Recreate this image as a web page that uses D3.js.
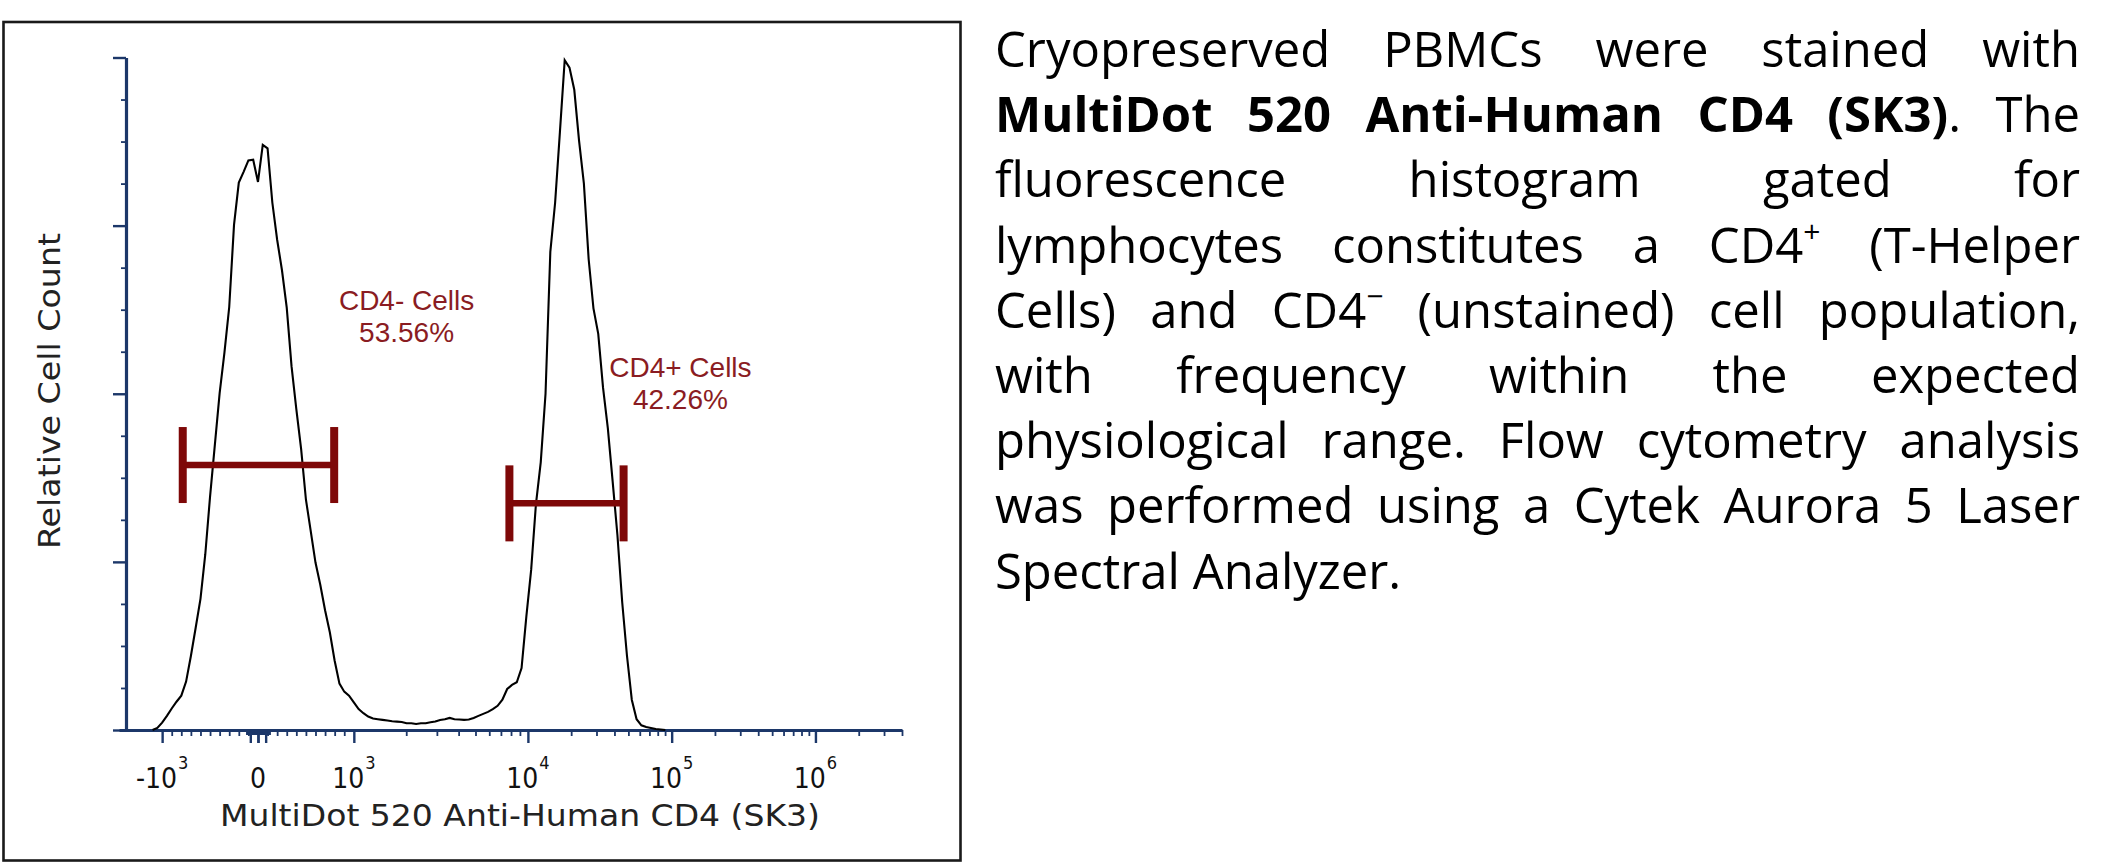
<!DOCTYPE html>
<html>
<head>
<meta charset="utf-8">
<script src="https://cdn.jsdelivr.net/npm/d3@7"></script>
<style>
  html, body { margin: 0; padding: 0; background: #ffffff; }
  svg { display: block; }
</style>
</head>
<body>
<svg id="chart" width="2116" height="867"></svg>
<script>
// ================= DATA =================
// Histogram bins are equally spaced in display units of the bi-exponential axis
// (one display unit = the linear span 0..10^3).
const binStart = -1.10;
const binStep = 0.05;
const counts = [
  0, 0.3, 1.1, 2.1, 3.2, 4.2, 5.1, 7.2, 11.0, 15.2,
  19.5, 26.1, 34.7, 42.4, 50.1, 56.1, 62.9, 75.1, 81.4, 83.0,
  84.7, 84.8, 81.5, 87.0, 86.5, 78.4, 72.9, 68.4, 62.8, 54.1,
  47.7, 41.8, 34.3, 29.6, 24.9, 21.6, 17.8, 14.5, 10.3, 6.9,
  5.7, 5.1, 4.1, 3.1, 2.5, 2.0, 1.7, 1.6, 1.5, 1.4,
  1.3, 1.25, 1.2, 1.0, 1.0, 0.9, 1.0, 1.0, 1.15, 1.25,
  1.5, 1.6, 1.8, 1.6, 1.55, 1.5, 1.55, 1.8, 2.1, 2.4,
  2.7, 3.1, 3.6, 4.5, 6.1, 6.7, 7.1, 9.2, 16.9, 23.8,
  33.6, 39.8, 50.0, 71.1, 78.4, 88.9, 99.6, 98.5, 95.2, 87.6,
  81.3, 70.0, 62.7, 58.9, 50.9, 44.9, 37.0, 29.0, 19.0, 11.0,
  4.5, 1.6, 0.7, 0.45, 0.3, 0.15, 0.07, 0
];

const xTickValues = [-1e3, 0, 1e3, 1e4, 1e5, 1e6];
const xTickBase   = ["-10", "0", "10", "10", "10", "10"];
const xTickExp    = ["3", "", "3", "4", "5", "6"];
const xAxisMin = -1450;
const xAxisMax = 4e6;

const yTickValues = [0, 25, 50, 75, 100];
const yMinorStep = 6.25;

const gateNames    = ["CD4- Cells", "CD4+ Cells"];
const gatePercents = ["53.56%", "42.26%"];
const gateLow      = [-785, 7830];
const gateHigh     = [795, 46300];
const gateLevel    = [39.4, 33.7];
// label anchors in data space (fluorescence, relative count)
const gateLabelX   = [2010, 115000];
const gateLabelY   = [62.5, 52.5];

const xTitle = "MultiDot 520 Anti-Human CD4 (SK3)";
const yTitle = "Relative Cell Count";

const paraLines = [
  [["Cryopreserved PBMCs were stained with", "n"]],
  [["MultiDot 520 Anti-Human CD4 (SK3)", "b"], [". The", "n"]],
  [["fluorescence histogram gated for", "n"]],
  [["lymphocytes constitutes a CD4", "n"], ["+", "sup"], [" (T-Helper", "n"]],
  [["Cells) and CD4", "n"], ["\u2212", "sup"], [" (unstained) cell population,", "n"]],
  [["with frequency within the expected", "n"]],
  [["physiological range. Flow cytometry analysis", "n"]],
  [["was performed using a Cytek Aurora 5 Laser", "n"]],
  [["Spectral Analyzer.", "n"]]
];

// ================= SCALES =================
const linPart = d3.scaleLinear().domain([-1e3, 1e3]).range([-1, 1]);
const logPart = d3.scaleLog().domain([1e3, 1e4, 1e7]).range([1, 2.816, 7.316]);
function toDisplay(v) { return v <= 1e3 ? linPart(v) : logPart(v); }

const axisNavy = "#1c3769";
const gateRed = "#7e0808";
const labelRed = "#8a1c22";

const svg = d3.select("#chart");

const xPx = d3.scaleLinear()
  .domain([toDisplay(xAxisMin), toDisplay(xAxisMax)])
  .range([119, 902]);
const yPx = d3.scaleLinear().domain([0, 100]).range([730, 57.5]);

// ================= FRAME =================
svg.append("rect")
  .attr("x", 3.5).attr("y", 22).attr("width", 957).attr("height", 838.5)
  .attr("fill", "none").attr("stroke", "#1a1a1a").attr("stroke-width", 2.6);

// ================= AXES =================
const xMinor = [];
d3.range(-900, 1000, 100).forEach(v => { if (v !== 0) xMinor.push(v); });
[1e3, 1e4, 1e5, 1e6].forEach(dec => {
  for (let k = 2; k <= 9; k++) { const v = dec * k; if (v <= xAxisMax) xMinor.push(v); }
});
const zeroCluster = d3.range(-120, 121, 6);
const zeroLong = [-80, 0, 80];

const gx = svg.append("g").attr("transform", "translate(0,730)");
// minor ticks
gx.append("g")
  .call(d3.axisBottom(xPx).tickValues(xMinor.map(toDisplay)).tickSize(6).tickSizeOuter(0).tickFormat(""))
  .call(g => g.select(".domain").remove())
  .call(g => g.selectAll("line").attr("stroke", axisNavy).attr("stroke-width", 1.8));
gx.append("g")
  .call(d3.axisBottom(xPx).tickValues(zeroCluster.map(toDisplay)).tickSize(5).tickSizeOuter(0).tickFormat(""))
  .call(g => g.select(".domain").remove())
  .call(g => g.selectAll("line").attr("stroke", axisNavy).attr("stroke-width", 1.8));
gx.append("g")
  .call(d3.axisBottom(xPx).tickValues(zeroLong.map(toDisplay)).tickSize(13).tickSizeOuter(0).tickFormat(""))
  .call(g => g.select(".domain").remove())
  .call(g => g.selectAll("line").attr("stroke", axisNavy).attr("stroke-width", 2.4));
// major ticks + axis line
gx.append("g")
  .call(d3.axisBottom(xPx).tickValues(xTickValues.map(toDisplay)).tickSize(13).tickSizeOuter(0).tickFormat(""))
  .call(g => g.select(".domain").attr("stroke", axisNavy).attr("stroke-width", 3.2))
  .call(g => g.selectAll("line").attr("stroke", axisNavy).attr("stroke-width", 2.4));

// x tick labels
const xl = svg.append("g");
xTickValues.forEach((v, i) => {
  const t = xl.append("text")
    .attr("x", xPx(toDisplay(v)))
    .attr("y", 788)
    .attr("text-anchor", "middle")
    .attr("font-family", "'DejaVu Sans Condensed', 'DejaVu Sans', sans-serif")
    .attr("font-size", 28)
    .attr("fill", "#111");
  t.append("tspan").text(xTickBase[i]);
  if (xTickExp[i]) {
    t.append("tspan").attr("font-size", 18).attr("dy", -19).attr("dx", 1).text(xTickExp[i]);
  }
});

// y axis
const yMinor = d3.range(0, 100 + 0.001, yMinorStep).filter(v => !yTickValues.includes(v));
const gy = svg.append("g").attr("transform", "translate(126,0)");
gy.append("g")
  .call(d3.axisLeft(yPx).tickValues(yMinor).tickSize(5).tickSizeOuter(0).tickFormat(""))
  .call(g => g.select(".domain").remove())
  .call(g => g.selectAll("line").attr("stroke", axisNavy).attr("stroke-width", 1.8));
gy.append("g")
  .call(d3.axisLeft(yPx).tickValues(yTickValues).tickSize(13).tickSizeOuter(0).tickFormat(""))
  .call(g => g.select(".domain").attr("stroke", axisNavy).attr("stroke-width", 3.2))
  .call(g => g.selectAll("line").attr("stroke", axisNavy).attr("stroke-width", 2.4));

// axis titles
svg.append("text")
  .attr("x", 520).attr("y", 826)
  .attr("text-anchor", "middle")
  .attr("font-family", "'DejaVu Sans', sans-serif")
  .attr("font-size", 31)
  .attr("fill", "#222")
  .attr("textLength", 600).attr("lengthAdjust", "spacingAndGlyphs")
  .text(xTitle);

svg.append("text")
  .attr("transform", "translate(60,391) rotate(-90)")
  .attr("text-anchor", "middle")
  .attr("font-family", "'DejaVu Sans', sans-serif")
  .attr("font-size", 31)
  .attr("fill", "#222")
  .attr("textLength", 316).attr("lengthAdjust", "spacingAndGlyphs")
  .text(yTitle);

// ================= HISTOGRAM =================
const histPts = counts.map((c, i) => ({ d: binStart + i * binStep, c }));
const line = d3.line().x(p => xPx(p.d)).y(p => yPx(p.c));
svg.append("path")
  .datum(histPts)
  .attr("d", line)
  .attr("fill", "none")
  .attr("stroke", "#000")
  .attr("stroke-width", 2.1)
  .attr("stroke-linejoin", "miter");

// ================= GATES =================
const capHalf = 38;
gateNames.forEach((name, i) => {
  const x0 = xPx(toDisplay(gateLow[i]));
  const x1 = xPx(toDisplay(gateHigh[i]));
  const y = yPx(gateLevel[i]);
  const g = svg.append("g").attr("stroke", gateRed);
  g.append("line").attr("x1", x0).attr("x2", x1).attr("y1", y).attr("y2", y).attr("stroke-width", 6.5);
  [x0, x1].forEach(x => {
    g.append("line").attr("x1", x).attr("x2", x).attr("y1", y - capHalf).attr("y2", y + capHalf).attr("stroke-width", 8);
  });
  const lx = xPx(toDisplay(gateLabelX[i]));
  const ly = yPx(gateLabelY[i]);
  svg.append("text")
    .attr("x", lx).attr("y", ly)
    .attr("text-anchor", "middle")
    .attr("font-family", "'Liberation Sans', Arial, sans-serif")
    .attr("font-size", 28)
    .attr("fill", labelRed)
    .text(name);
  svg.append("text")
    .attr("x", lx).attr("y", ly + 32)
    .attr("text-anchor", "middle")
    .attr("font-family", "'Liberation Sans', Arial, sans-serif")
    .attr("font-size", 28)
    .attr("fill", labelRed)
    .text(gatePercents[i]);
});

// ================= PARAGRAPH =================
const paraLeft = 995, paraRight = 2080, paraTop = 67, paraLead = 65.2;
const paraFont = "'Open Sans', 'Noto Sans', sans-serif";
const paraSize = 49;
const para = svg.append("g")
  .attr("font-family", paraFont)
  .attr("font-size", paraSize)
  .attr("fill", "#000");

function toWords(lineSegs) {
  const words = []; let cur = [];
  lineSegs.forEach(([t, s]) => {
    t.split(" ").forEach((p, k) => {
      if (k > 0) { if (cur.length) words.push(cur); cur = []; }
      if (p.length) cur.push([p, s]);
    });
  });
  if (cur.length) words.push(cur);
  return words;
}

// natural space width
const probe = para.append("text").text("a a");
const probe2 = para.append("text").text("aa");
const spaceW = probe.node().getComputedTextLength() - probe2.node().getComputedTextLength();
probe.remove(); probe2.remove();

paraLines.forEach((segs, li) => {
  const words = toWords(segs);
  const y = paraTop + li * paraLead;
  const nodes = words.map(w => {
    const t = para.append("text").attr("y", y);
    let raised = false;
    w.forEach(([txt, s]) => {
      const ts = t.append("tspan").text(txt);
      if (s === "b") ts.attr("font-weight", 700);
      if (s === "sup") { ts.attr("font-size", 30).attr("dy", -21); raised = true; }
      else if (raised) { ts.attr("dy", 21); raised = false; }
    });
    return t;
  });
  const widths = nodes.map(n => n.node().getComputedTextLength());
  const total = d3.sum(widths);
  const last = li === paraLines.length - 1;
  const gap = (!last && nodes.length > 1) ? (paraRight - paraLeft - total) / (nodes.length - 1) : spaceW;
  let x = paraLeft;
  nodes.forEach((n, k) => { n.attr("x", x); x += widths[k] + gap; });
});
</script>
</body>
</html>
